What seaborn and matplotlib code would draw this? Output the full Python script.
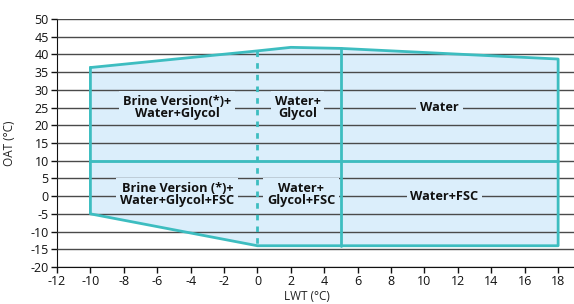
import matplotlib
matplotlib.use("Agg")
import matplotlib.pyplot as plt
import pandas as pd
import seaborn as sns

# Operating envelope outline (LWT, OAT).
ENVELOPE_LWT = [-10, 0, 2, 5, 18, 18, 5, 0, -10, -10]
ENVELOPE_OAT = [36.3, 41.0, 42.0, 41.7, 38.7, -14.0, -14.0, -14.0, -5.0, 36.3]

# Internal boundaries: FSC split at OAT 10, glycol split at LWT 0 and 5.
FSC_SPLIT_LWT = [-10, 18]
FSC_SPLIT_OAT = [10, 10]
GLYCOL_SPLIT_LWT = [0, 0]
GLYCOL_SPLIT_OAT = [41.0, -14.0]
WATER_SPLIT_LWT = [5, 5]
WATER_SPLIT_OAT = [41.7, -14.0]

# Region labels and where they sit.
REGION_LABELS = [
    "Brine Version(*)+\nWater+Glycol",
    "Water+\nGlycol",
    "Water",
    "Brine Version (*)+\nWater+Glycol+FSC",
    "Water+\nGlycol+FSC",
    "Water+FSC",
]
REGION_LWT = [-4.8, 2.4, 10.9, -4.8, 2.6, 11.2]
REGION_OAT = [25, 25, 25, 0.5, 0.5, 0]

X_TICKS = list(range(-12, 19, 2))
Y_TICKS = list(range(-20, 51, 5))

LINE_COLOR = "#3dbdc0"
FILL_COLOR = "#dbeefb"


def main() -> None:
    sns.set_style("white")
    plt.rcParams["font.family"] = ["Open Sans", "DejaVu Sans"]
    plt.rcParams["axes.unicode_minus"] = False

    fig = plt.figure(figsize=(5.74, 3.04), dpi=100)
    ax = fig.add_axes([0.0993, 0.1217, 1 - 0.0993, 0.9375 - 0.1217])

    # Light blue envelope fill sits under the grid lines.
    ax.fill(ENVELOPE_LWT, ENVELOPE_OAT, color=FILL_COLOR, zorder=0.5, lw=0)

    outline = pd.DataFrame({"LWT": ENVELOPE_LWT, "OAT": ENVELOPE_OAT})
    sns.lineplot(data=outline, x="LWT", y="OAT", sort=False, estimator=None,
                 color=LINE_COLOR, lw=2, ax=ax, zorder=3)
    sns.lineplot(x=FSC_SPLIT_LWT, y=FSC_SPLIT_OAT, color=LINE_COLOR, lw=2,
                 ax=ax, zorder=3)
    sns.lineplot(x=WATER_SPLIT_LWT, y=WATER_SPLIT_OAT, sort=False, estimator=None,
                 color=LINE_COLOR, lw=2, ax=ax, zorder=3)
    ax.plot(GLYCOL_SPLIT_LWT, GLYCOL_SPLIT_OAT, color=LINE_COLOR, lw=2,
            ls=(0, (2, 2.2)), zorder=3)

    for text, x, y in zip(REGION_LABELS, REGION_LWT, REGION_OAT):
        ax.text(x, y, text, ha="center", va="center", fontsize=9.2,
                fontweight="bold", color="#111111", linespacing=0.95, zorder=4,
                bbox=dict(boxstyle="square,pad=0.3", fc=FILL_COLOR, ec="none"))

    ax.set_xlim(-12, 18.95)
    ax.set_ylim(-20, 50)
    ax.set_xticks(X_TICKS)
    ax.set_yticks(Y_TICKS)
    ax.grid(axis="y", color="#4a4a4a", lw=1)
    ax.grid(axis="x", visible=False)
    ax.set_axisbelow(False)
    for line in ax.get_ygridlines():
        line.set_zorder(1)

    sns.despine(ax=ax, top=True, right=True)
    ax.spines["left"].set_color("#111111")
    ax.spines["bottom"].set_color("#111111")
    ax.tick_params(axis="both", direction="out", length=4, width=1,
                   colors="#111111", labelsize=9, pad=2)
    ax.tick_params(axis="x", bottom=True)
    ax.tick_params(axis="y", left=True)

    ax.set_xlabel("LWT (°C)", fontsize=8.5, color="#222222")
    ax.set_ylabel("OAT (°C)", fontsize=8.5, color="#222222")
    ax.xaxis.set_label_coords(0.484, -0.092)
    ax.yaxis.set_label_coords(-0.08, 0.5)
    if ax.get_legend() is not None:
        ax.get_legend().remove()

    fig.savefig("out.png", dpi=100)
    plt.close(fig)


if __name__ == "__main__":
    main()
